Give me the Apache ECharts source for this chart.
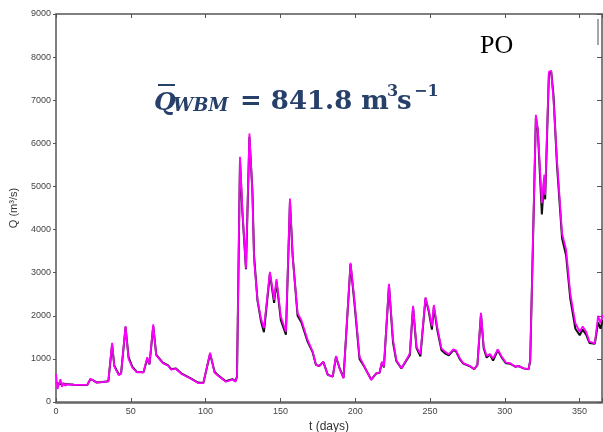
<!DOCTYPE html>
<html><head><meta charset="utf-8">
<script src="https://cdn.jsdelivr.net/npm/echarts@6/dist/echarts.min.js"></script>
<style>html,body{margin:0;padding:0;background:#fff}#c{width:603px;height:432px}</style>
</head><body><div id="c"></div>
<script>
// time (days) of each read vertex
const days = [0,1,2,3,4,5,6,8,12,16,21,23,25,27,31,35,36,37.5,39,42,43.5,46.5,48.5,51,54,58.5,61,62.5,65,67,71.5,75,77,80,84,89.5,95,98.5,103,106,108,113.5,118,120,121,123,124.6,127,129.3,131.3,132.4,134.7,137,139,143,145.8,147.4,150.3,153.7,156.4,158.2,161.5,164,168.2,171.6,173.8,176,178.7,181.7,185,187.2,189.5,192.2,196.9,199.5,202.9,206.2,210.7,214,216.3,217.9,219.2,222.6,225.3,227.5,230.9,235.4,236.5,238.7,241,243.6,247,249.2,251.3,252.6,255,257.7,260,262.6,265.6,267.3,270,272.3,276.7,279.6,281.7,284.1,285.9,287.9,290.1,292.2,295.3,298,300.7,303.6,307,309.2,312.6,315.9,317,320.8,322.1,324.8,326.4,327,329.5,331,332.6,334.9,338.3,341,343.8,347.2,350.1,352.1,354.4,356.6,360.2,362.4,364,365.5];
// model discharge (magenta)
const qModel = [650,300,420,530,350,450,380,410,400,395,400,540,500,450,460,480,500,1370,820,620,660,1760,1000,800,690,690,1040,880,1800,1080,900,840,750,770,650,550,440,440,1145,680,620,470,520,470,600,5690,4450,3100,6230,4840,3300,2370,1940,1710,3020,2370,2850,1980,1630,4720,3370,2060,1900,1440,1170,860,835,935,626,590,1067,780,550,3230,2370,1050,820,510,665,680,935,820,2740,1440,975,780,1050,1130,2230,1280,1110,2430,2130,1760,2250,1710,1245,1170,1110,1220,1200,1010,900,835,765,860,2070,1280,1067,1110,1010,1220,1050,915,900,820,835,780,760,975,6660,6310,4610,5270,4800,7660,7680,7000,5610,3910,3530,2520,1830,1630,1750,1630,1400,1360,2000,1830,2020];
// reference discharge (black)
const qRef = [450,420,420,420,410,410,410,410,400,395,400,530,500,455,465,480,500,1330,840,640,660,1740,1040,820,700,690,1000,870,1760,1100,910,850,760,780,660,560,450,440,1120,700,630,480,530,480,590,5600,4400,3080,6150,4900,3400,2350,1880,1620,2980,2300,2800,1900,1560,4650,3400,2000,1850,1400,1150,860,835,930,630,590,1050,790,560,3200,2300,1000,810,520,660,680,920,800,2700,1380,950,780,1030,1080,2200,1250,1060,2400,2100,1680,2200,1650,1200,1130,1080,1200,1180,990,890,830,760,860,2040,1250,1030,1100,960,1200,1030,900,890,820,835,780,760,950,6600,6300,4350,5200,4700,7600,7680,7100,5500,3800,3400,2400,1700,1550,1680,1560,1370,1350,1850,1700,1900];
const xTicks = [0,50,100,150,200,250,300,350];
const yTicks = [0,1000,2000,3000,4000,5000,6000,7000,8000,9000];

const chart = echarts.init(document.getElementById('c'), null, {renderer:'canvas'});
const axisCol = '#555';
const lab = {fontFamily:'Liberation Sans', fontSize:9, color:'#444'};
const pairs = a => days.map((d,i)=>[d,a[i]]);
const blue = '#26406a';
const ff = 'DejaVu Serif';
chart.setOption({
  animation:false,
  grid:{left:56,right:1,top:14,bottom:30,containLabel:false,outerBoundsMode:'none'},
  xAxis:[
    {type:'value',position:'bottom',min:0,max:365,interval:50,
     axisLine:{onZero:false,lineStyle:{color:'#666',width:2.5}},
     axisTick:{inside:true,length:4,lineStyle:{color:axisCol}},
     axisLabel:Object.assign({margin:5,formatter:v=>xTicks.includes(v)?String(v):''},lab),
     splitLine:{show:false},
     name:'t (days)',nameLocation:'middle',nameGap:16,
     nameTextStyle:{fontFamily:'Liberation Sans',fontSize:12,color:'#333'}},
    {type:'value',position:'top',min:0,max:365,interval:50,
     axisLine:{onZero:false,lineStyle:{color:axisCol,width:1.5}},
     axisTick:{inside:true,length:4,lineStyle:{color:axisCol}},
     axisLabel:{show:false},splitLine:{show:false}}
  ],
  yAxis:[
    {type:'value',position:'left',min:0,max:9000,interval:1000,
     axisLine:{show:true,onZero:false,lineStyle:{color:axisCol,width:1.5}},
     axisTick:{show:true,inside:false,length:3,lineStyle:{color:axisCol}},
     axisLabel:Object.assign({margin:5,formatter:v=>yTicks.includes(v)?String(v):''},lab),
     splitLine:{show:false},
     name:'Q (m³/s)',nameLocation:'middle',nameGap:37,nameRotate:90,
     nameTextStyle:{fontFamily:'Liberation Sans',fontSize:11,color:'#333'}},
    {type:'value',position:'right',min:0,max:9000,interval:1000,
     axisLine:{show:true,onZero:false,lineStyle:{color:axisCol,width:1.5}},
     axisTick:{show:true,inside:true,length:5,lineStyle:{color:axisCol}},
     axisLabel:{show:false},splitLine:{show:false}}
  ],
  series:[
    {type:'line',data:pairs(qRef),showSymbol:false,lineStyle:{color:'#111',width:2},z:2},
    {type:'line',data:pairs(qModel),showSymbol:false,lineStyle:{color:'#ff00ff',width:1.8},z:3}
  ],
  graphic:[
    {type:'text',left:480,top:33,style:{text:'PO',font:'26px "Liberation Serif"',fill:'#000'}},
    {type:'line',shape:{x1:598,y1:19,x2:598,y2:45},style:{stroke:'#888',lineWidth:1.5}},
    {type:'text',x:154,y:116,style:{text:'Q',font:'italic bold 25px "'+ff+'"',fill:blue,textVerticalAlign:'bottom'}},
    {type:'line',shape:{x1:158,y1:85,x2:175,y2:85},style:{stroke:blue,lineWidth:2}},
    {type:'text',x:173,y:115,style:{text:'WBM',font:'italic bold 18px "'+ff+'"',fill:blue,textVerticalAlign:'bottom'}},
    {type:'text',x:240,y:115,style:{text:'= 841.8 m',font:'bold 26px "'+ff+'"',fill:blue,textVerticalAlign:'bottom'}},
    {type:'text',x:387,y:100,style:{text:'3',font:'bold 16px "'+ff+'"',fill:blue,textVerticalAlign:'bottom'}},
    {type:'text',x:397,y:115,style:{text:'s',font:'bold 26px "'+ff+'"',fill:blue,textVerticalAlign:'bottom'}},
    {type:'text',x:414,y:100,style:{text:'−1',font:'bold 16px "'+ff+'"',fill:blue,textVerticalAlign:'bottom'}}
  ]
});
</script></body></html>
